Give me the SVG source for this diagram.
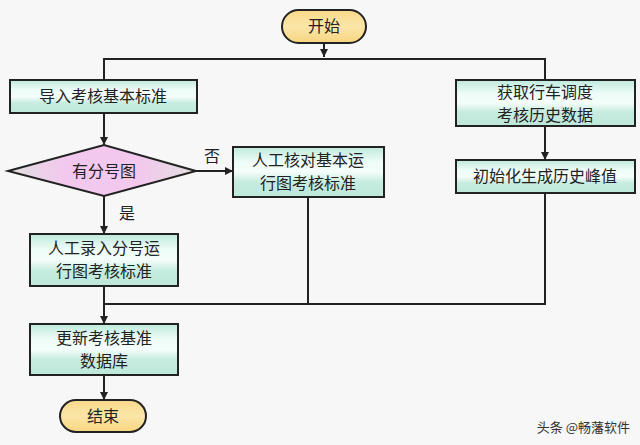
<svg xmlns="http://www.w3.org/2000/svg" width="640" height="445" viewBox="0 0 640 445">
<defs>
<linearGradient id="box" x1="0" y1="0" x2="0" y2="1">
<stop offset="0" stop-color="#bfe9dc"/><stop offset="0.3" stop-color="#eefcf8"/><stop offset="0.5" stop-color="#f4fdfa"/><stop offset="0.7" stop-color="#c6ecdf"/><stop offset="1" stop-color="#bde8da"/>
</linearGradient>
<linearGradient id="pill" x1="0" y1="0" x2="0" y2="1">
<stop offset="0" stop-color="#f9d98a"/><stop offset="0.5" stop-color="#fbe6a8"/><stop offset="1" stop-color="#f7d57f"/>
</linearGradient>
<linearGradient id="dia" x1="0" y1="0" x2="1" y2="0">
<stop offset="0" stop-color="#e0e0e0"/><stop offset="0.3" stop-color="#f3c8ee"/><stop offset="0.7" stop-color="#f3c8ee"/><stop offset="1" stop-color="#e0e0e0"/>
</linearGradient>
<marker id="ar" viewBox="0 0 10 10" refX="10" refY="5" markerWidth="8" markerHeight="8" markerUnits="userSpaceOnUse" orient="auto"><path d="M0,0L10,5L0,10z" fill="#222"/></marker>
<style>
.b{fill:url(#box);stroke:#222;stroke-width:2}
.p{fill:url(#pill);stroke:#222;stroke-width:2}
.t{font-family:"Noto Sans CJK SC",sans-serif;font-size:16px;fill:#222;text-anchor:middle}
.c{fill:none;stroke:#222;stroke-width:2}
</style>
</defs>
<rect width="640" height="445" fill="#f7f7f7"/>
<g id="connectors">
<path class="c" d="M324,43V57" marker-end="url(#ar)"/>
<path class="c" d="M104,80V59H545V80"/>
<path class="c" d="M104,113V145" marker-end="url(#ar)"/>
<path class="c" d="M196,171H233" marker-end="url(#ar)"/>
<path class="c" d="M104,196V234" marker-end="url(#ar)"/>
<path class="c" d="M545,126V160" marker-end="url(#ar)"/>
<path class="c" d="M104,286V324" marker-end="url(#ar)"/>
<path class="c" d="M308,197V304H104"/>
<path class="c" d="M545,193V304H308"/>
<path class="c" d="M104,375V400" marker-end="url(#ar)"/>
<text class="t" x="212" y="162">否</text>
<text class="t" x="127" y="219">是</text>
</g>
<g id="start"><rect class="p" x="282" y="10" width="84" height="33" rx="16.5"/><text class="t" x="324" y="32">开始</text></g>
<g id="import"><rect class="b" x="10" y="80" width="187" height="33"/><text class="t" x="103" y="102">导入考核基本标准</text></g>
<g id="decision"><polygon points="8,171 104,145 196,171 104,196" fill="url(#dia)" stroke="#222" stroke-width="2"/><text class="t" x="104" y="177">有分号图</text></g>
<g id="manual-basic"><rect class="b" x="233" y="147" width="151" height="50"/><text class="t" x="308" y="166">人工核对基本运</text><text class="t" x="308" y="189">行图考核标准</text></g>
<g id="manual-input"><rect class="b" x="30" y="234" width="148" height="52"/><text class="t" x="104" y="254">人工录入分号运</text><text class="t" x="104" y="277">行图考核标准</text></g>
<g id="update"><rect class="b" x="30" y="324" width="148" height="51"/><text class="t" x="104" y="344">更新考核基准</text><text class="t" x="104" y="367">数据库</text></g>
<g id="end"><rect class="p" x="60" y="400" width="86" height="32" rx="16"/><text class="t" x="103" y="422">结束</text></g>
<g id="fetch"><rect class="b" x="456" y="80" width="179" height="46"/><text class="t" x="545" y="98">获取行车调度</text><text class="t" x="545" y="121">考核历史数据</text></g>
<g id="init"><rect class="b" x="456" y="160" width="179" height="33"/><text class="t" x="545" y="182">初始化生成历史峰值</text></g>
<text x="630" y="432" font-family="Noto Sans CJK SC,sans-serif" font-size="13" fill="#333" text-anchor="end">头条 @畅藩软件</text>
</svg>
